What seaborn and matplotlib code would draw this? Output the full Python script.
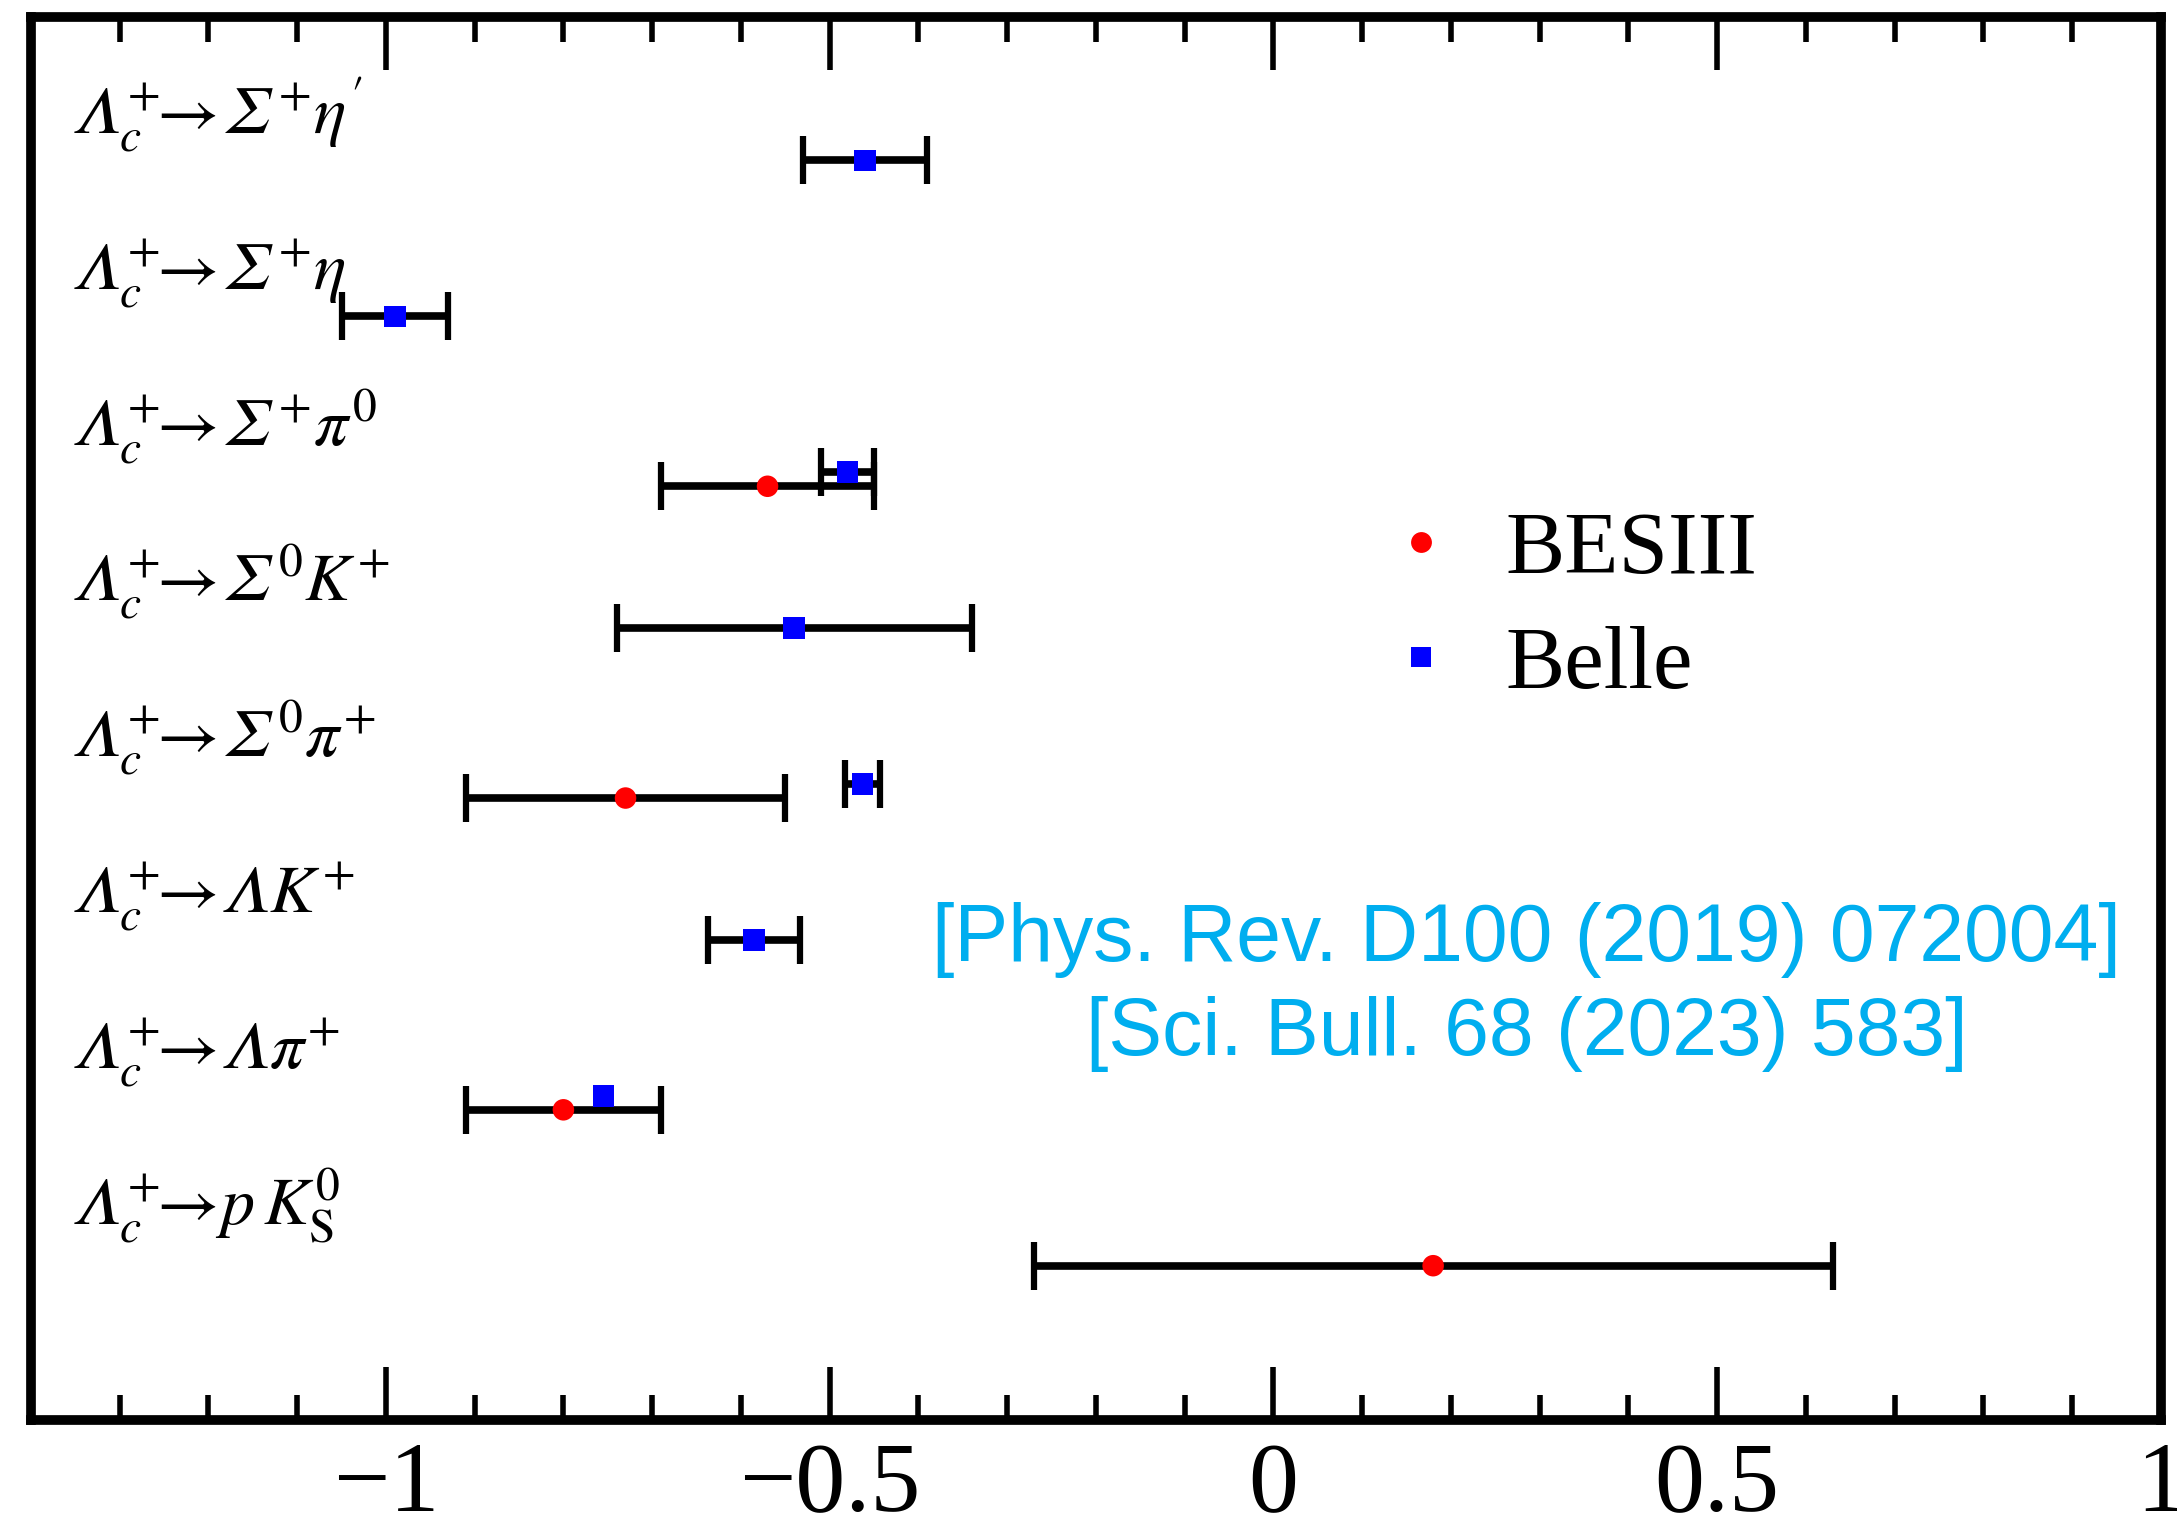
import numpy as np
import pandas as pd
import matplotlib
matplotlib.use("Agg")
import matplotlib.pyplot as plt
from matplotlib.lines import Line2D
from matplotlib.ticker import MultipleLocator, FixedLocator, FixedFormatter
import seaborn as sns

# Decay-asymmetry parameters (alpha) for Lambda_c+ two-body decays
LC = "\U0001D6EC_c^{\\mathrm{+}}\\!\\!\\rightarrow\\!"
SIG = "\U0001D6F4"
LAM = "\U0001D6EC"
decays = [
    "$" + LC + SIG + "^{\\mathrm{+}}\\eta^{\\prime}$",
    "$" + LC + SIG + "^{\\mathrm{+}}\\eta$",
    "$" + LC + SIG + "^{\\mathrm{+}}\\pi^{0}$",
    "$" + LC + SIG + "^{0}K^{\\mathrm{+}}$",
    "$" + LC + SIG + "^{0}\\pi^{\\mathrm{+}}$",
    "$" + LC + LAM + "K^{\\mathrm{+}}$",
    "$" + LC + LAM + "\\pi^{\\mathrm{+}}$",
    "$" + LC + "p\\,K_{\\mathrm{S}}^{0}$",
]
belle_alpha = [-0.46, -0.99, -0.48, -0.54, -0.463, -0.585, -0.755, np.nan]
belle_err = [0.07, 0.06, 0.03, 0.20, 0.02, 0.052, 0.006, np.nan]
besiii_alpha = [np.nan, np.nan, -0.57, np.nan, -0.73, np.nan, -0.80, 0.18]
besiii_err = [np.nan, np.nan, 0.12, np.nan, 0.18, np.nan, 0.11, 0.45]

xtick_values = [-1, -0.5, 0, 0.5, 1]
xtick_labels = ["\u22121", "\u22120.5", "0", "0.5", "1"]
refs = "[Phys. Rev. D100 (2019) 072004]\n[Sci. Bull. 68 (2023) 583]"

rows = np.arange(len(decays))
df = pd.concat([
    pd.DataFrame({"row": rows, "alpha": belle_alpha, "err": belle_err, "exp": "Belle"}),
    pd.DataFrame({"row": rows + 0.09, "alpha": besiii_alpha, "err": besiii_err, "exp": "BESIII"}),
]).dropna()

sns.set_theme(style="white")
plt.rcParams["font.family"] = ["Liberation Serif", "DejaVu Serif"]
plt.rcParams["mathtext.fontset"] = "stix"
plt.rcParams["text.color"] = "black"
plt.rcParams["xtick.color"] = "black"
plt.rcParams["xtick.labelcolor"] = "black"

fig = plt.figure(figsize=(21.77, 15.36), dpi=100)
ax = fig.add_axes([0.0142, 0.0755, 0.9784, 0.9134])

# errors smaller than the marker are hidden behind it
eb = df[df["err"] > 0.01]
ax.errorbar(eb["alpha"], eb["row"], xerr=eb["err"], fmt="none", ecolor="black",
            elinewidth=5.5, capsize=17, capthick=4.5, zorder=2)

palette = {"BESIII": "#ff0000", "Belle": "#0000ff"}
markers = {"BESIII": "o", "Belle": "s"}
sns.scatterplot(data=df, x="alpha", y="row", hue="exp", style="exp",
                palette=palette, markers=markers, s=240, linewidth=0,
                legend=False, ax=ax, zorder=3)

for i, lab in enumerate(decays):
    ax.text(-1.355, i - 0.17, lab, fontsize=49, ha="left", va="baseline")

ax.text(0.285, 5.3, refs, color="#00aeef", fontsize=58, ha="center", va="center",
        family="Liberation Sans", linespacing=1.3)

handles = [
    Line2D([], [], ls="none", marker="o", color="#ff0000", markersize=15, mew=0),
    Line2D([], [], ls="none", marker="s", color="#0000ff", markersize=14, mew=0),
]
ax.legend(handles, ["BESIII", "Belle"], loc="center left", bbox_to_anchor=(0.611, 0.578),
          frameon=False, fontsize=64, handlelength=1.0, handletextpad=0.45,
          borderpad=0, labelspacing=0.38)

ax.set_xlim(-1.40, 1.0)
ax.set_ylim(8.08, -0.92)
ax.set_xlabel("")
ax.set_ylabel("")
ax.set_yticks([])
ax.xaxis.set_major_locator(FixedLocator(xtick_values))
ax.xaxis.set_major_formatter(FixedFormatter(xtick_labels))
ax.xaxis.set_minor_locator(MultipleLocator(0.1))
ax.tick_params(axis="x", which="major", direction="in", top=True, bottom=True,
               length=38, width=4, labelsize=72, pad=16, color="black")
ax.tick_params(axis="x", which="minor", direction="in", top=True, bottom=True,
               length=18, width=4, color="black")
for sp in ax.spines.values():
    sp.set_linewidth(7)
    sp.set_color("black")

fig.savefig("out.png", dpi=100)
